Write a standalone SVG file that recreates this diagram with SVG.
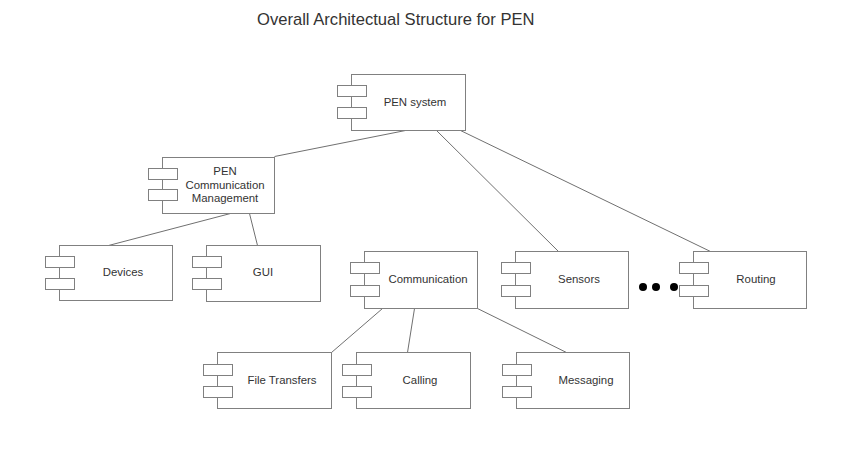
<svg xmlns="http://www.w3.org/2000/svg" width="855" height="449" viewBox="0 0 855 449">
<style>
.box{fill:#fff;stroke:#808080;stroke-width:1}
.port{fill:#fff;stroke:#808080;stroke-width:1}
.lbl{font-family:"Liberation Sans",Arial,sans-serif;font-size:11.4px;fill:#333;text-anchor:middle}
.title{font-family:"Liberation Sans",Arial,sans-serif;font-size:16.6px;fill:#333}
.conn line{stroke:#707070;stroke-width:1}
</style>
<rect width="855" height="449" fill="#fff"/>
<text class="title" x="257" y="25">Overall Architectual Structure for PEN</text>
<g class="conn" id="connectors">
<line x1="405.5" y1="130.5" x2="274.5" y2="156.5"/>
<line x1="436.5" y1="130.5" x2="558.5" y2="251.5"/>
<line x1="460.5" y1="130.5" x2="710.5" y2="251.5"/>
<line x1="230.5" y1="213.5" x2="108.5" y2="245.5"/>
<line x1="249.5" y1="213.5" x2="257.5" y2="245.5"/>
<line x1="382.5" y1="308.5" x2="331.5" y2="352.5"/>
<line x1="414.5" y1="308.5" x2="407.5" y2="352.5"/>
<line x1="477.5" y1="308.5" x2="566.5" y2="352.5"/>
</g>
<g id="pen-system">
<rect class="box" x="351.5" y="74.5" width="114" height="56"/>
<rect class="port" x="337.5" y="85.5" width="29" height="11"/>
<rect class="port" x="337.5" y="107.5" width="29" height="11"/>
<text class="lbl" x="415" y="106">PEN system</text>
</g>
<g id="pen-comm-mgmt">
<rect class="box" x="162.5" y="157.5" width="112" height="56"/>
<rect class="port" x="148.5" y="168.5" width="29" height="11"/>
<rect class="port" x="148.5" y="189.5" width="29" height="11"/>
<text class="lbl" x="225" y="175">PEN</text>
<text class="lbl" x="225" y="189">Communication</text>
<text class="lbl" x="225" y="202">Management</text>
</g>
<g id="devices">
<rect class="box" x="59.5" y="245.5" width="113" height="55"/>
<rect class="port" x="45.5" y="256.5" width="29" height="11"/>
<rect class="port" x="45.5" y="278.5" width="29" height="11"/>
<text class="lbl" x="123" y="276">Devices</text>
</g>
<g id="gui">
<rect class="box" x="206.5" y="245.5" width="114" height="56"/>
<rect class="port" x="192.5" y="256.5" width="29" height="11"/>
<rect class="port" x="192.5" y="278.5" width="29" height="11"/>
<text class="lbl" x="263" y="276">GUI</text>
</g>
<g id="communication">
<rect class="box" x="364.5" y="251.5" width="113" height="57"/>
<rect class="port" x="350.5" y="262.5" width="29" height="11"/>
<rect class="port" x="350.5" y="285.5" width="29" height="11"/>
<text class="lbl" x="428" y="283">Communication</text>
</g>
<g id="sensors">
<rect class="box" x="515.5" y="251.5" width="113" height="57"/>
<rect class="port" x="501.5" y="262.5" width="29" height="11"/>
<rect class="port" x="501.5" y="285.5" width="29" height="11"/>
<text class="lbl" x="579" y="283">Sensors</text>
</g>
<g id="ellipsis">
<circle cx="643" cy="287" r="4" fill="#000"/>
<circle cx="656" cy="287" r="4" fill="#000"/>
<circle cx="674" cy="287" r="4" fill="#000"/>
</g>
<g id="routing">
<rect class="box" x="693.5" y="251.5" width="113" height="57"/>
<rect class="port" x="679.5" y="262.5" width="29" height="11"/>
<rect class="port" x="679.5" y="285.5" width="29" height="11"/>
<text class="lbl" x="756" y="283">Routing</text>
</g>
<g id="file-transfers">
<rect class="box" x="217.5" y="352.5" width="114" height="56"/>
<rect class="port" x="203.5" y="364.5" width="29" height="11"/>
<rect class="port" x="203.5" y="386.5" width="29" height="11"/>
<text class="lbl" x="282" y="384">File Transfers</text>
</g>
<g id="calling">
<rect class="box" x="356.5" y="352.5" width="114" height="56"/>
<rect class="port" x="342.5" y="364.5" width="29" height="11"/>
<rect class="port" x="342.5" y="386.5" width="29" height="11"/>
<text class="lbl" x="420" y="384">Calling</text>
</g>
<g id="messaging">
<rect class="box" x="516.5" y="352.5" width="113" height="56"/>
<rect class="port" x="502.5" y="364.5" width="29" height="11"/>
<rect class="port" x="502.5" y="386.5" width="29" height="11"/>
<text class="lbl" x="586" y="384">Messaging</text>
</g>
</svg>
